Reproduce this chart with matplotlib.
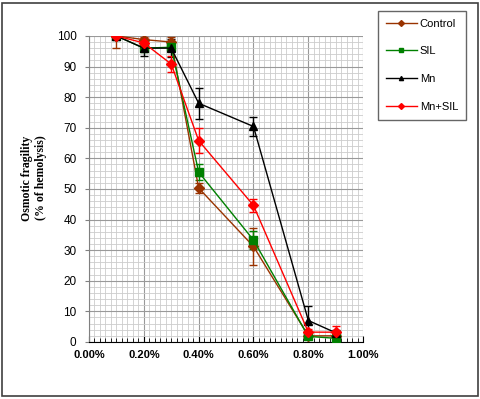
import matplotlib
matplotlib.use("Agg")
import matplotlib.pyplot as plt
from matplotlib.patches import Rectangle
from matplotlib.ticker import MultipleLocator, FuncFormatter

# concentration of NaCl (%)
conc = [0.1, 0.2, 0.3, 0.4, 0.6, 0.8, 0.9]

control = [100, 98.8, 98.0, 50.3, 31.2, 2.0, 2.0]
control_err = [4.0, 1.0, 1.7, 1.5, 6.0, 1.0, 1.0]
sil = [100, 96.0, 96.3, 55.5, 33.3, 1.8, 1.2]
sil_err = [1.0, 1.0, 1.0, 2.5, 3.0, 1.0, 0.5]
mn = [100, 96.0, 96.0, 78.0, 70.4, 7.0, 3.0]
mn_err = [1.0, 2.7, 3.0, 5.0, 3.0, 4.6, 1.0]
mnsil = [100, 97.7, 90.8, 65.8, 44.6, 3.2, 3.2]
mnsil_err = [1.0, 1.5, 2.5, 4.0, 2.0, 1.0, 2.0]

labels = ["Control", "SIL", "Mn", "Mn+SIL"]
series = [control, sil, mn, mnsil]
errors = [control_err, sil_err, mn_err, mnsil_err]
colors = ["#993300", "#008000", "#000000", "#ff0000"]
markers = ["D", "s", "^", "D"]
msizes = [5, 6, 6, 5]

fig = plt.figure(figsize=(4.81, 3.99), dpi=100)
ax = fig.add_axes([0.185, 0.143, 0.570, 0.767])

# outer frame around the whole chart
fig.patches.append(Rectangle((0.005, 0.008), 0.989, 0.984, transform=fig.transFigure,
                             fill=False, edgecolor="#404040", linewidth=1.2))

handles = []
for y, e, c, m, s, lab in zip(series, errors, colors, markers, msizes, labels):
    ax.errorbar(conc, y, yerr=e, color=c, ecolor=c, elinewidth=1, capsize=3,
                capthick=1, linewidth=1, marker=m, markersize=s, zorder=3)
    h, = ax.plot([], [], color=c, marker=m, markersize=3, linewidth=1)
    handles.append(h)

ax.set_xlim(0, 1.0)
ax.set_ylim(0, 100)
ax.xaxis.set_major_locator(MultipleLocator(0.2))
ax.xaxis.set_minor_locator(MultipleLocator(0.02))
ax.yaxis.set_major_locator(MultipleLocator(10))
ax.yaxis.set_minor_locator(MultipleLocator(2))
ax.xaxis.set_major_formatter(FuncFormatter(lambda v, p: f"{v:.2f}%"))

ax.grid(which="major", color="#999999", linewidth=0.8)
ax.grid(which="minor", color="#cccccc", linewidth=0.6)
ax.set_axisbelow(True)

for sp in ["top", "right"]:
    ax.spines[sp].set_visible(False)
ax.spines["left"].set_color("#808080")
ax.spines["bottom"].set_color("#000000")

ax.tick_params(axis="x", which="major", direction="in", length=4, labelsize=8, pad=6)
ax.tick_params(axis="x", which="minor", direction="in", length=3)
ax.tick_params(axis="y", which="major", direction="out", length=3, color="#808080",
               labelsize=8.5, pad=6)
ax.tick_params(axis="y", which="minor", length=0)
for t in ax.get_xticklabels():
    t.set_fontweight("bold")
    t.set_fontfamily("Liberation Sans")
for t in ax.get_yticklabels():
    t.set_fontfamily("Liberation Sans")

fig.text(0.070, 0.554, "Osmotic fragility\n(% of hemolysis)", rotation=90,
         ha="center", va="center", multialignment="center",
         fontfamily="Liberation Serif", fontweight="bold", fontsize=8.5, linespacing=1.2)

leg = fig.legend(handles, labels, loc="upper left", bbox_to_anchor=(0.786, 0.973),
                 frameon=True, fancybox=False, edgecolor="#404040",
                 prop={"family": "Liberation Sans", "size": 8},
                 handlelength=2.8, labelspacing=1.6, borderpad=0.7, handletextpad=0.25,
                 borderaxespad=0)
leg.get_frame().set_linewidth(1.0)

fig.savefig("out.png", dpi=100)
